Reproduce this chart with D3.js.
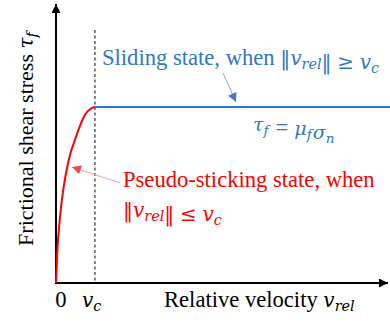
<!DOCTYPE html>
<html>
<head>
<meta charset="utf-8">
<script src="https://cdn.jsdelivr.net/npm/d3@7"></script>
<style>
  body { margin: 0; background: #fff; }
  text { font-family: "Liberation Serif", "Times New Roman", serif; }
  .m { font-family: "DejaVu Serif", serif; }
</style>
</head>
<body>
<div id="chart"></div>
<script>
// values (v in units of v_c, tau in units of mu_f*sigma_n)
const stickV   = [0, 0.033, 0.10, 0.205, 0.315, 0.53, 0.74, 0.915, 1];
const stickTau = [0, 0.176, 0.369, 0.557, 0.688, 0.841, 0.955, 0.994, 1];
const slideV   = [1, 8.7];
const slideTau = [1, 1];
const vc = 1;

const width = 390, height = 324;
const blue = '#2f78c4', red = '#ff0000';
const fs = 22.6, ms = 20;

const svg = d3.select('#chart').append('svg')
    .attr('width', width)
    .attr('height', height);

const x = d3.scaleLinear().domain([0, 8.5]).range([56, 387]);
const y = d3.scaleLinear().domain([0, 1.58]).range([283, 5]);

const defs = svg.append('defs');
function marker(id, color, w, h) {
  defs.append('marker')
      .attr('id', id)
      .attr('viewBox', '0 0 10 10')
      .attr('refX', 10).attr('refY', 5)
      .attr('markerWidth', w).attr('markerHeight', h)
      .attr('markerUnits', 'userSpaceOnUse')
      .attr('orient', 'auto')
    .append('path')
      .attr('d', 'M0,0 L10,5 L0,10 z')
      .attr('fill', color);
}
marker('arrBlack', '#000', 10, 9);
marker('arrBlue', '#4a74c8', 11, 9);
marker('arrRed', '#f04848', 11, 9);

// dashed v_c line
svg.append('line')
    .attr('x1', x(vc)).attr('x2', x(vc))
    .attr('y1', 30).attr('y2', y(0))
    .attr('stroke', '#333').attr('stroke-width', 1.2)
    .attr('stroke-dasharray', '3,2.5');

// axes
svg.append('line')
    .attr('x1', x(0)).attr('x2', x(0))
    .attr('y1', y(0) + 1).attr('y2', 4)
    .attr('stroke', '#000').attr('stroke-width', 2)
    .attr('marker-end', 'url(#arrBlack)');
svg.append('line')
    .attr('x1', x(0) - 1).attr('x2', 388)
    .attr('y1', y(0)).attr('y2', y(0))
    .attr('stroke', '#000').attr('stroke-width', 2)
    .attr('marker-end', 'url(#arrBlack)');

// curves
const line = d3.line().x(d => x(d[0])).y(d => y(d[1]));
svg.append('path')
    .datum(d3.zip(stickV, stickTau))
    .attr('d', line.curve(d3.curveMonotoneX))
    .attr('fill', 'none')
    .attr('stroke', red).attr('stroke-width', 2);
svg.append('path')
    .datum(d3.zip(slideV, slideTau))
    .attr('d', d3.line().x(d => x(d[0])).y(d => y(d[1])))
    .attr('fill', 'none')
    .attr('stroke', blue).attr('stroke-width', 2);

// annotation arrows
svg.append('line')
    .attr('x1', 223).attr('y1', 73).attr('x2', 236).attr('y2', 102)
    .attr('stroke', '#8aa6dc').attr('stroke-width', 1)
    .attr('marker-end', 'url(#arrBlue)');
svg.append('line')
    .attr('x1', 120).attr('y1', 183).attr('x2', 72).attr('y2', 167)
    .attr('stroke', '#f6a8a8').attr('stroke-width', 1.2)
    .attr('marker-end', 'url(#arrRed)');

// math helpers
function sym(t, s, size) {
  t.append('tspan').attr('class', 'm').attr('font-size', size || ms).text(s);
}
function mathV(t, sub, g, dx, size) {
  const sz = size || ms;
  t.append('tspan').attr('class', 'm').attr('font-size', sz)
      .attr('font-style', 'italic').attr('dx', dx || 0).text(g || 'v');
  t.append('tspan').attr('class', 'm').attr('font-style', 'italic')
      .attr('font-size', sz * 0.72).attr('dy', 4).text(sub);
  t.append('tspan').attr('dy', -4).text('');
}

// sliding text
const s1 = svg.append('text')
    .attr('x', 102).attr('y', 65)
    .attr('font-size', fs).attr('fill', blue);
s1.append('tspan').text('Sliding state, when ');
sym(s1, '‖');
mathV(s1, 'rel');
sym(s1, '‖');
s1.append('tspan').text(' ');
sym(s1, '≥');
s1.append('tspan').text(' ');
mathV(s1, 'c');

// tau_f = mu_f sigma_n
const es = 19;
const s2 = svg.append('text')
    .attr('x', 253).attr('y', 131)
    .attr('font-size', fs).attr('fill', blue);
mathV(s2, 'f', 'τ', 0, es);
s2.append('tspan').attr('dx', 7).text('=');
mathV(s2, 'f', 'μ', 6, es);
mathV(s2, 'n', 'σ', 1, es);

// pseudo-sticking text
svg.append('text')
    .attr('x', 123).attr('y', 187)
    .attr('font-size', fs).attr('fill', red)
    .text('Pseudo-sticking state, when');
const r2 = svg.append('text')
    .attr('x', 123).attr('y', 217)
    .attr('font-size', fs).attr('fill', red);
sym(r2, '‖');
mathV(r2, 'rel');
sym(r2, '‖');
r2.append('tspan').text(' ');
sym(r2, '≤');
r2.append('tspan').text(' ');
mathV(r2, 'c');

// tick labels
svg.append('text')
    .attr('x', 61).attr('y', 307)
    .attr('text-anchor', 'middle')
    .attr('font-size', fs).text('0');
const tc = svg.append('text')
    .attr('x', x(vc) - 13).attr('y', 307)
    .attr('font-size', fs);
mathV(tc, 'c');

// axis titles
const xt = svg.append('text')
    .attr('x', 164).attr('y', 307)
    .attr('font-size', fs);
xt.append('tspan').text('Relative velocity ');
mathV(xt, 'rel');

const yt = svg.append('text')
    .attr('transform', 'translate(33,139) rotate(-90)')
    .attr('text-anchor', 'middle')
    .attr('font-size', 22);
yt.append('tspan').text('Frictional shear stress ');
mathV(yt, 'f', 'τ');
</script>
</body>
</html>
